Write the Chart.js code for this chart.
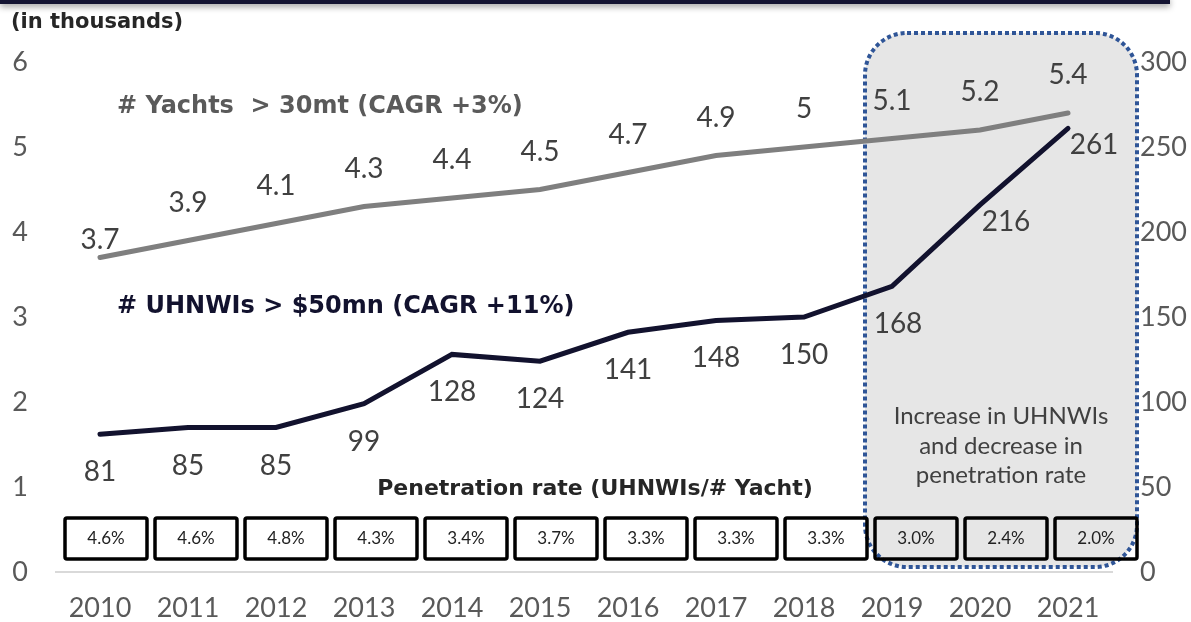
<!DOCTYPE html>
<html>
<head>
<meta charset="utf-8">
<script src="https://cdn.jsdelivr.net/npm/chart.js@4.4.1/dist/chart.umd.min.js"></script>
<style>
  body { margin: 0; background: #fff; }
  #wrap { width: 1191px; height: 622px; position: relative; }
</style>
</head>
<body>
<div id="wrap"><canvas id="chart"></canvas></div>
<script>
const years = ['2010', '2011', '2012', '2013', '2014', '2015', '2016', '2017', '2018', '2019', '2020', '2021']
const yachts = [3.7, 3.9, 4.1, 4.3, 4.4, 4.5, 4.7, 4.9, 5, 5.1, 5.2, 5.4] // thousands, left axis
const uhnwis = [81, 85, 85, 99, 128, 124, 141, 148, 150, 168, 216, 261] // thousands, right axis
const penetration = ['4.6%', '4.6%', '4.8%', '4.3%', '3.4%', '3.7%', '3.3%', '3.3%', '3.3%', '3.0%', '2.4%', '2.0%']
const highlightYears = ['2019', '2020', '2021']

const FONT = 'Lato, "Open Sans", sans-serif'
const BOLD = '"DejaVu Sans", sans-serif'
const TXT = '#404040'

// everything drawn around the lines: shaded box, value labels, penetration row
const overlay = {
  id: 'overlay',
  beforeDraw(chart) {
    const ctx = chart.ctx
    ctx.save()
    ctx.shadowColor = 'rgba(0,0,0,0.35)'
    ctx.shadowBlur = 6
    ctx.shadowOffsetY = 3
    ctx.fillStyle = '#141432'
    ctx.fillRect(0, -4, 1170, 8)
    ctx.restore()

    ctx.save()
    ctx.fillStyle = '#262626'
    ctx.font = 'bold 21px ' + BOLD
    ctx.textBaseline = 'middle'
    ctx.fillText('(in thousands)', 11, 23)
    ctx.restore()
  },
  beforeDatasetsDraw(chart) {
    const ctx = chart.ctx
    const x = chart.scales.x
    const left = x.getPixelForValue(years.indexOf(highlightYears[0])) - 27
    const right = x.getPixelForValue(years.indexOf(highlightYears[highlightYears.length - 1])) + 69
    ctx.save()
    ctx.beginPath()
    ctx.roundRect(left, 33, right - left, 534, 42)
    ctx.fillStyle = '#e6e6e6'
    ctx.fill()
    ctx.setLineDash([4, 3])
    ctx.lineWidth = 4
    ctx.strokeStyle = '#2f5597'
    ctx.stroke()
    ctx.setLineDash([])
    ctx.fillStyle = TXT
    ctx.font = '24px ' + FONT
    ctx.textAlign = 'center'
    ctx.textBaseline = 'middle'
    const cx = (left + right) / 2
    ctx.fillText('Increase in UHNWIs', cx, 416)
    ctx.fillText('and decrease in', cx, 446)
    ctx.fillText('penetration rate', cx, 475)
    ctx.restore()
  },
  afterDatasetsDraw(chart) {
    const ctx = chart.ctx
    const x = chart.scales.x
    const yL = chart.scales.y
    const yR = chart.scales.y1
    ctx.save()
    ctx.font = '28px ' + FONT
    ctx.fillStyle = TXT
    ctx.textAlign = 'center'
    ctx.textBaseline = 'middle'
    yachts.forEach((v, i) => {
      const px = x.getPixelForValue(i)
      const py = yL.getPixelForValue(v)
      ctx.fillText(String(v), px, py - (i === 0 ? 18 : 38))
    })
    uhnwis.forEach((v, i) => {
      const px = x.getPixelForValue(i)
      const py = yR.getPixelForValue(v)
      if (i >= uhnwis.length - 2) {
        ctx.fillText(String(v), px + 26, py + 17)
      } else {
        ctx.fillText(String(v), px + (i === 9 ? 6 : 0), py + 38)
      }
    })

    // series captions
    ctx.textAlign = 'left'
    ctx.font = 'bold 24px ' + BOLD
    ctx.fillStyle = '#5a5a5a'
    ctx.fillText('# Yachts  > 30mt (CAGR +3%)', 117, 107)
    ctx.fillStyle = '#12122e'
    ctx.fillText('# UHNWIs > $50mn (CAGR +11%)', 117, 307)
    ctx.fillStyle = '#262626'
    ctx.font = 'bold 22px ' + BOLD
    ctx.textAlign = 'center'
    ctx.fillText('Penetration rate (UHNWIs/# Yacht)', 595, 489)

    // penetration boxes (the table runs on a slightly wider pitch than the axis)
    ctx.lineWidth = 3.5
    ctx.strokeStyle = '#000'
    ctx.font = '17px ' + FONT
    penetration.forEach((p, i) => {
      const px = x.getPixelForValue(i) + 6 + 2 * i
      ctx.beginPath()
      ctx.roundRect(px - 41, 518, 82, 41, 2)
      ctx.stroke()
      ctx.fillStyle = '#222'
      ctx.fillText(p, px, 539)
    })
    ctx.restore()
  }
}

new Chart(
  document.getElementById('chart'),
  {
    type: 'line',
    data: {
      labels: years,
      datasets: [
        {
          label: 'Yachts',
          data: yachts,
          yAxisID: 'y',
          borderColor: '#7f7f7f',
          borderWidth: 5,
          pointRadius: 0,
          borderCapStyle: 'round',
          tension: 0
        },
        {
          label: 'UHNWIs',
          data: uhnwis,
          yAxisID: 'y1',
          borderColor: '#12122e',
          borderWidth: 5,
          pointRadius: 0,
          borderCapStyle: 'round',
          tension: 0
        }
      ]
    },
    options: {
      responsive: true,
      maintainAspectRatio: false,
      animation: false,
      layout: { padding: { top: 62, left: 0, right: 0, bottom: 0 } },
      plugins: {
        legend: { display: false },
        tooltip: { enabled: false }
      },
      scales: {
        x: {
          offset: true,
          grid: { display: false, drawTicks: false },
          border: { display: true, color: '#d9d9d9', width: 2 },
          ticks: { color: '#595959', font: { family: FONT, size: 27 }, padding: 20 },
          afterFit(scale) { scale.height = 50 }
        },
        y: {
          position: 'left',
          min: 0,
          max: 6,
          grid: { display: false, drawTicks: false },
          border: { display: false },
          ticks: { stepSize: 1, color: '#595959', font: { family: FONT, size: 27 }, padding: 28 },
          afterFit(scale) { scale.width = 56 }
        },
        y1: {
          position: 'right',
          min: 0,
          max: 300,
          grid: { display: false, drawTicks: false },
          border: { display: false },
          ticks: { stepSize: 50, color: '#595959', font: { family: FONT, size: 27 }, padding: 28 },
          afterFit(scale) { scale.width = 79 }
        }
      }
    },
    plugins: [overlay]
  }
)
</script>
</body>
</html>
